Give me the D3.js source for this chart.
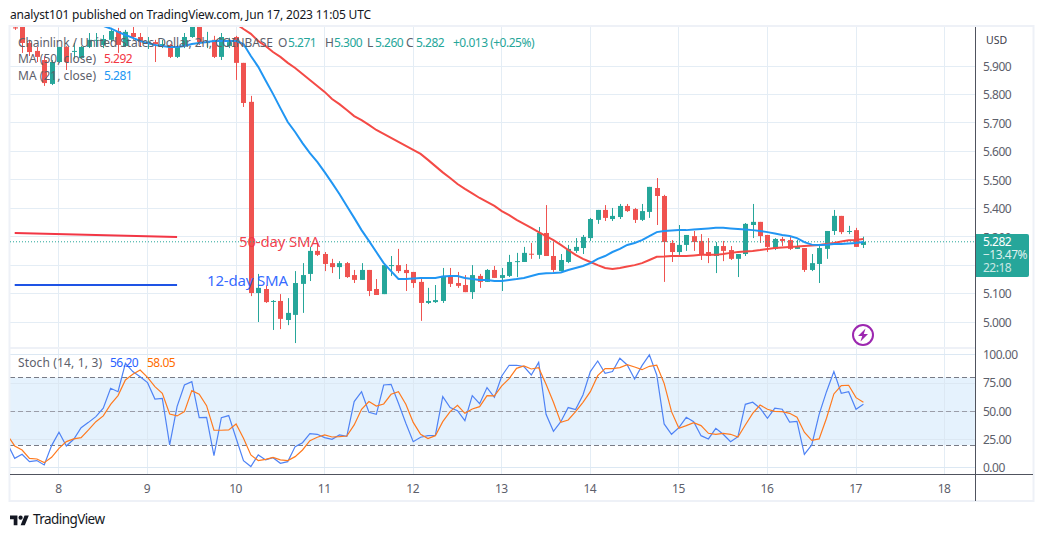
<!DOCTYPE html>
<html>
<head>
<meta charset="utf-8">
<script src="https://cdn.jsdelivr.net/npm/d3@7"></script>
<style>
  html, body { margin: 0; padding: 0; background: #fff; }
  svg { display: block; }
  text { font-family: "Noto Sans", "DejaVu Sans", sans-serif; }
</style>
</head>
<body>
<svg id="chart" width="1044" height="537"></svg>
<script>
// LINK/USD two-hour candles, 7 Jun 12:00 to 17 Jun 2023
const opens = [
  6.036,6.062,5.981,5.953,5.921,5.837,5.914,5.967,5.951,5.928,
  5.967,5.990,5.974,5.992,6.023,5.970,6.016,6.002,5.982,5.984,
  5.975,5.974,5.932,5.970,6.002,6.062,5.982,5.992,5.932,5.970,
  6.002,5.911,5.774,5.102,5.116,5.072,5.074,5.007,5.025,5.134,
  5.169,5.250,5.239,5.207,5.193,5.207,5.165,5.148,5.183,5.116,
  5.098,5.198,5.200,5.183,5.176,5.141,5.067,5.070,5.074,5.162,
  5.137,5.130,5.105,5.162,5.141,5.183,5.155,5.162,5.212,5.211,
  5.240,5.236,5.313,5.232,5.179,5.211,5.250,5.260,5.295,5.359,
  5.394,5.362,5.369,5.408,5.397,5.359,5.387,5.471,5.443,5.278,
  5.246,5.271,5.302,5.285,5.246,5.232,5.267,5.253,5.222,5.239,
  5.341,5.352,5.306,5.257,5.292,5.288,5.257,5.260,5.183,5.204,
  5.257,5.320,5.373,5.318,5.323,5.271];
const highs = [
  6.045,6.080,5.992,5.967,5.935,5.921,5.967,5.970,5.981,5.970,
  6.016,6.016,6.009,6.034,6.034,6.027,6.037,6.016,6.002,5.992,
  5.992,5.977,5.974,6.016,6.080,6.080,6.020,6.006,6.016,5.999,
  6.006,5.911,5.795,5.169,5.130,5.077,5.098,5.084,5.179,5.207,
  5.264,5.278,5.246,5.222,5.214,5.211,5.183,5.207,5.183,5.151,
  5.200,5.232,5.257,5.204,5.176,5.158,5.120,5.130,5.190,5.190,
  5.176,5.165,5.200,5.169,5.186,5.197,5.190,5.236,5.243,5.264,
  5.278,5.334,5.411,5.281,5.239,5.271,5.295,5.306,5.366,5.394,
  5.411,5.401,5.415,5.415,5.401,5.415,5.475,5.506,5.447,5.288,
  5.341,5.306,5.320,5.309,5.295,5.281,5.285,5.267,5.239,5.348,
  5.415,5.352,5.306,5.295,5.299,5.299,5.288,5.260,5.239,5.267,
  5.320,5.394,5.373,5.338,5.331,5.300];
const lows = [
  6.027,5.946,5.935,5.914,5.830,5.833,5.911,5.886,5.925,5.925,
  5.963,5.967,5.963,5.984,5.946,5.967,5.992,5.970,5.960,5.914,
  5.963,5.928,5.928,5.963,5.999,5.974,5.963,5.928,5.921,5.963,
  5.851,5.756,5.091,5.000,5.067,4.972,4.975,4.989,4.926,5.032,
  5.144,5.232,5.179,5.172,5.151,5.155,5.137,5.148,5.091,5.095,
  5.098,5.162,5.172,5.109,5.120,5.004,5.063,5.067,5.067,5.123,
  5.120,5.105,5.081,5.120,5.141,5.155,5.109,5.158,5.158,5.211,
  5.222,5.222,5.232,5.176,5.179,5.207,5.243,5.239,5.285,5.345,
  5.355,5.355,5.362,5.387,5.348,5.355,5.366,5.341,5.141,5.211,
  5.236,5.250,5.250,5.218,5.207,5.172,5.214,5.218,5.158,5.232,
  5.295,5.278,5.246,5.253,5.267,5.253,5.257,5.176,5.179,5.137,
  5.222,5.306,5.309,5.309,5.264,5.260];
const closes = [
  6.032,5.981,5.949,5.932,5.840,5.914,5.967,5.914,5.953,5.967,
  5.992,5.992,5.995,6.023,5.974,6.020,6.002,5.984,5.984,5.977,
  5.977,5.932,5.970,6.002,6.062,5.984,5.984,5.932,6.002,5.984,
  5.911,5.770,5.102,5.120,5.070,5.074,5.011,5.032,5.137,5.165,
  5.250,5.236,5.204,5.193,5.207,5.158,5.148,5.183,5.109,5.095,
  5.200,5.200,5.179,5.172,5.137,5.067,5.074,5.077,5.162,5.134,
  5.127,5.105,5.165,5.141,5.183,5.155,5.165,5.211,5.214,5.243,
  5.237,5.313,5.232,5.183,5.218,5.257,5.264,5.299,5.362,5.394,
  5.366,5.373,5.408,5.390,5.359,5.390,5.475,5.443,5.281,5.246,
  5.271,5.306,5.281,5.239,5.232,5.267,5.250,5.222,5.239,5.345,
  5.352,5.302,5.264,5.292,5.285,5.257,5.267,5.183,5.207,5.260,
  5.320,5.373,5.316,5.320,5.264,5.282];

// 21-period average, visible from bar 10 onward
const ma21Start = 10;
const ma21 = [
  6.062,6.051,6.041,6.032,6.020,6.009,5.999,5.988,5.981,5.974,
  5.970,5.967,5.967,5.970,5.977,5.981,5.984,5.988,5.988,5.988,5.988,
  5.977,5.935,5.897,5.849,5.802,5.752,5.703,5.668,5.629,
  5.594,5.563,5.527,5.489,5.450,5.408,5.366,5.323,5.285,5.246,
  5.207,5.179,5.151,5.151,5.153,5.155,5.155,5.155,5.160,5.162,
  5.162,5.155,5.151,5.148,5.148,5.144,5.144,5.148,5.151,5.155,
  5.162,5.169,5.171,5.172,5.174,5.183,5.190,5.197,5.207,5.222,
  5.232,5.246,5.257,5.271,5.278,5.288,5.302,5.316,5.320,5.322,
  5.323,5.323,5.325,5.327,5.329,5.331,5.331,5.329,5.327,5.325,
  5.323,5.320,5.316,5.311,5.306,5.302,5.295,5.281,5.272,5.271,
  5.272,5.274,5.274,5.276,5.278,5.281];

// 50-period average, visible from bar 30 onward
const ma50Start = 30;
const ma50 = [
  6.048,6.030,6.013,5.988,5.970,5.949,5.932,5.911,5.893,5.872,
  5.851,5.830,5.809,5.784,5.766,5.745,5.724,5.710,5.693,5.675,
  5.661,5.647,5.633,5.619,5.605,5.591,5.570,5.548,5.526,5.506,
  5.485,5.468,5.452,5.436,5.422,5.408,5.390,5.376,5.359,5.345,
  5.331,5.316,5.302,5.288,5.271,5.253,5.236,5.222,5.211,5.200,
  5.190,5.186,5.190,5.195,5.200,5.207,5.218,5.229,5.230,5.232,
  5.232,5.232,5.234,5.236,5.236,5.236,5.239,5.243,5.246,5.248,
  5.250,5.253,5.257,5.260,5.262,5.264,5.265,5.267,5.269,5.271,
  5.274,5.278,5.283,5.287,5.288,5.292];

// Stochastic (14, 1, 3); the first reading belongs to the bar before the first candle
const stochK = [
  21.6,8.3,11.9,5.4,6.3,2.4,19.6,31.4,19.3,25.2,35.5,40.2,45.3,52.7,70.4,67.4,
  92.6,85.2,80.7,75.4,60.9,61.5,20.2,54.1,73.3,76.3,44.4,44.7,10.7,44.4,46.2,26.1,
  6.3,1.0,11.3,6.9,8.9,3.9,5.4,18.7,22.2,30.2,29.6,26.7,25.2,29.0,27.8,
  58.6,67.4,49.1,47.3,73.3,73.9,57.1,39.4,23.1,27.0,28.4,28.7,63.0,53.3,50.6,41.7,
  63.9,56.8,71.0,62.4,81.3,90.8,90.8,89.6,82.2,93.4,47.3,32.3,40.8,53.3,51.5,64.5,
  85.2,94.6,83.7,85.2,97.0,91.1,78.7,90.5,100.0,82.2,38.8,29.6,35.5,44.7,
  40.8,28.4,25.5,34.9,29.6,23.1,27.5,56.2,58.0,52.7,43.8,52.7,51.8,40.5,41.1,11.9,
  20.2,47.3,67.4,85.2,66.0,67.4,51.8,56.20];
const stochD = [
  29.0,19.3,15.7,8.3,7.7,4.5,9.2,17.2,23.1,25.5,26.7,33.5,40.8,45.9,56.2,63.9,
  77.8,82.8,86.6,80.1,71.9,66.0,47.6,45.9,49.7,68.3,65.1,55.0,33.2,33.2,33.5,38.8,
  26.1,11.3,6.3,7.4,9.2,6.9,6.3,9.8,15.7,24.0,27.0,29.0,27.2,27.5,28.1,
  37.9,51.8,58.6,54.7,56.5,65.1,67.4,56.2,40.2,29.6,25.8,28.4,40.8,49.7,55.3,48.2,
  52.1,54.1,63.9,63.6,72.5,79.0,88.1,90.2,87.5,88.7,73.9,58.0,40.2,42.3,49.7,58.0,
  67.4,81.6,87.8,87.8,88.7,91.4,89.3,86.9,89.9,90.8,74.8,49.7,34.9,37.3,
  40.0,37.3,30.5,29.6,30.5,29.6,27.2,37.9,48.2,55.6,51.8,50.0,49.7,48.2,44.7,31.4,
  24.3,25.5,43.8,65.4,72.8,73.1,62.1,58.05];

const priceTicks = [5.0,5.1,5.2,5.3,5.4,5.5,5.6,5.7,5.8,5.9];
// 5.200 sits entirely behind the last-price tag, so it gets no label
const priceLabels = [5.0,5.1,5.3,5.4,5.5,5.6,5.7,5.8,5.9];
const stochTicks = [0,25,50,75,100];
const dayLabels = [8,9,10,11,12,13,14,15,16,17,18];
const barsPerDay = 12;
const firstDayBar = 6;

// Drawn-on trend markers
const sma50Marker = [5.313, 5.299];
const sma12Marker = [5.130, 5.130];
const markerBars = [0, 22];

const colors = {
  up: "#26a69a", down: "#ef5350", grid: "#e4edf5", frame: "#eef1f7",
  axis: "#50535e", text: "#5d606b", maFast: "#2196f3", maSlow: "#f44a46",
  k: "#4f83f5", d: "#ff7a1f", band: "#e5f2fd"
};

const plot = { left: 10, right: 975.5, top: 27, mid: 348, stochBottom: 474, bottom: 501, edge: 1033 };
const digitSpacing = -0.5;

const svg = d3.select("#chart");
const x = d3.scaleLinear().domain([0, 115]).range([14.7, 863.4]);
const yP = d3.scaleLinear().domain([5, 5.9]).range([322, 66]);
const yS = d3.scaleLinear().domain([0, 100]).range([467.7, 354.9]);
const dayBars = dayLabels.map((d, i) => firstDayBar + i * barsPerDay);

const defs = svg.append("defs");
defs.append("clipPath").attr("id", "pricePane").append("rect")
  .attr("x", plot.left).attr("y", plot.top).attr("width", plot.right - plot.left).attr("height", plot.mid - plot.top);
defs.append("clipPath").attr("id", "stochPane").append("rect")
  .attr("x", plot.left).attr("y", plot.mid).attr("width", plot.right - plot.left).attr("height", plot.stochBottom - plot.mid);

// Grid
const grid = svg.append("g").attr("stroke", colors.grid).attr("shape-rendering", "crispEdges");
grid.selectAll(".v").data(dayBars).join("line")
  .attr("x1", d => x(d)).attr("x2", d => x(d)).attr("y1", plot.top).attr("y2", plot.stochBottom);
grid.selectAll(".h").data(priceTicks).join("line")
  .attr("x1", plot.left).attr("x2", plot.right).attr("y1", d => yP(d)).attr("y2", d => yP(d));

// Stochastic band sits under its own grid lines
svg.append("rect")
  .attr("x", plot.left).attr("width", plot.right - plot.left)
  .attr("y", yS(80)).attr("height", yS(20) - yS(80)).attr("fill", colors.band);
const grid2 = svg.append("g").attr("stroke", "#dce8f3").attr("shape-rendering", "crispEdges");
grid2.selectAll("line").data(stochTicks).join("line")
  .attr("x1", plot.left).attr("x2", plot.right).attr("y1", d => yS(d)).attr("y2", d => yS(d));
grid2.selectAll(".vs").data(dayBars).join("line")
  .attr("x1", d => x(d)).attr("x2", d => x(d)).attr("y1", yS(80)).attr("y2", yS(20));
[[80, "#787b86"], [50, "#9a9da8"], [20, "#787b86"]].forEach(([v, c]) => {
  svg.append("line")
    .attr("x1", plot.left).attr("x2", plot.right).attr("y1", yS(v)).attr("y2", yS(v))
    .attr("stroke", c).attr("stroke-dasharray", "5 3").attr("shape-rendering", "crispEdges");
});

// Frame and axis rules
const frame = svg.append("g").attr("fill", "none");
frame.append("rect")
  .attr("x", plot.left - 0.5).attr("y", plot.top - 1).attr("width", plot.edge - plot.left + 1).attr("height", plot.bottom - plot.top + 1)
  .attr("stroke", colors.frame).attr("stroke-width", 2);
frame.append("line").attr("x1", plot.left).attr("x2", plot.right).attr("y1", plot.mid).attr("y2", plot.mid)
  .attr("stroke", colors.frame).attr("stroke-width", 2);

// Candles
const pricePane = svg.append("g").attr("clip-path", "url(#pricePane)");
const bars = d3.range(opens.length);
const candleColor = i => closes[i] >= opens[i] ? colors.up : colors.down;
pricePane.append("g").selectAll("line").data(bars).join("line")
  .attr("x1", i => Math.round(x(i)) + 0.5).attr("x2", i => Math.round(x(i)) + 0.5)
  .attr("y1", i => yP(highs[i])).attr("y2", i => yP(lows[i]))
  .attr("stroke", candleColor);
pricePane.append("g").selectAll("rect").data(bars).join("rect")
  .attr("x", i => Math.round(x(i)) - 2).attr("width", 5)
  .attr("y", i => Math.min(yP(opens[i]), yP(closes[i])))
  .attr("height", i => Math.max(1, Math.abs(yP(opens[i]) - yP(closes[i]))))
  .attr("fill", candleColor);

// Last-price line
pricePane.append("line")
  .attr("x1", plot.left).attr("x2", plot.right)
  .attr("y1", yP(closes[closes.length - 1])).attr("y2", yP(closes[closes.length - 1]))
  .attr("stroke", colors.up).attr("stroke-dasharray", "1 2");

// Moving averages
const maLine = start => d3.line().x((d, i) => x(i + start)).y(d => yP(d));
pricePane.append("path").attr("d", maLine(ma50Start)(ma50))
  .attr("fill", "none").attr("stroke", colors.maSlow).attr("stroke-width", 2);
pricePane.append("path").attr("d", maLine(ma21Start)(ma21))
  .attr("fill", "none").attr("stroke", colors.maFast).attr("stroke-width", 2);

// Hand-drawn markers and their captions
const markerLine = d3.line().x((d, i) => x(markerBars[i])).y(d => yP(d));
svg.append("path").attr("d", markerLine(sma50Marker)).attr("fill", "none").attr("stroke", "#f23645").attr("stroke-width", 2);
svg.append("path").attr("d", markerLine(sma12Marker)).attr("fill", "none").attr("stroke", "#1e53e5").attr("stroke-width", 2);
svg.append("text").text("50-day SMA").attr("x", 239).attr("y", 247)
  .attr("font-size", 15).attr("fill", "#f23645").attr("fill-opacity", 0.95).attr("textLength", 81);
svg.append("text").text("12-day SMA").attr("x", 207).attr("y", 286)
  .attr("font-size", 15).attr("fill", "#2962ff").attr("fill-opacity", 0.95).attr("textLength", 81);

// Stochastic pane
const stochPane = svg.append("g").attr("clip-path", "url(#stochPane)");
const stochLine = d3.line().x((d, i) => x(i - 1)).y(d => yS(d));
stochPane.append("path").attr("d", stochLine(stochK)).attr("fill", "none").attr("stroke", colors.k).attr("stroke-width", 1.2);
stochPane.append("path").attr("d", stochLine(stochD)).attr("fill", "none").attr("stroke", colors.d).attr("stroke-width", 1.2);

// Event badge
const badge = svg.append("g").attr("transform", "translate(863,335)");
badge.append("circle").attr("r", 10).attr("fill", "#fff").attr("stroke", "#9c27b0").attr("stroke-width", 2);
badge.append("path").attr("d", "M2.5 -6.5 L-5 1 L-0.8 1 L-2.5 6.5 L5 -1 L0.8 -1 Z").attr("fill", "#9c27b0");

// Right-hand and bottom axis rules
svg.append("line").attr("x1", plot.right).attr("x2", plot.right).attr("y1", plot.top).attr("y2", plot.bottom)
  .attr("stroke", colors.axis).attr("shape-rendering", "crispEdges");
svg.append("line").attr("x1", plot.left).attr("x2", plot.edge).attr("y1", plot.stochBottom + 0.5).attr("y2", plot.stochBottom + 0.5)
  .attr("stroke", colors.axis).attr("shape-rendering", "crispEdges");

// Axes
const styleAxis = g => {
  g.select(".domain").remove();
  g.selectAll(".tick line").remove();
  g.selectAll("text").attr("fill", colors.text).attr("font-size", 12).attr("letter-spacing", digitSpacing);
};
svg.append("g").attr("transform", "translate(976,0.5)")
  .call(d3.axisRight(yP).tickValues(priceLabels).tickFormat(d3.format(".3f")).tickSize(0).tickPadding(7))
  .call(styleAxis);
svg.append("g").attr("transform", "translate(976,0)")
  .call(d3.axisRight(yS).tickValues(stochTicks).tickFormat(d3.format(".2f")).tickSize(0).tickPadding(7))
  .call(styleAxis);
svg.append("g").attr("transform", "translate(-1,481)")
  .call(d3.axisBottom(d3.scaleOrdinal().domain(dayLabels).range(dayBars.map(b => x(b)))).tickSize(0).tickPadding(3))
  .call(styleAxis);
svg.append("text").text("USD").attr("x", 986).attr("y", 44).attr("font-size", 10.5).attr("fill", "#3d404a");

// Last-price tag
const tag = svg.append("g").attr("letter-spacing", digitSpacing);
tag.append("path").attr("d", "M976 234 H1027 a2 2 0 0 1 2 2 V275 a2 2 0 0 1 -2 2 H976 Z").attr("fill", colors.up);
tag.append("text").text(d3.format(".3f")(closes[closes.length - 1])).attr("x", 983).attr("y", 246).attr("fill", "#fff").attr("font-size", 12);
tag.append("text").text("\u221213.47%").attr("x", 983).attr("y", 259).attr("fill", "#fff").attr("fill-opacity", 0.85).attr("font-size", 12);
tag.append("text").text("22:18").attr("x", 983).attr("y", 272).attr("fill", "#fff").attr("fill-opacity", 0.75).attr("font-size", 12);

// Header and legends
svg.append("text").text("analyst101 published on TradingView.com, Jun 17, 2023 11:05 UTC")
  .attr("x", 10).attr("y", 19).attr("font-size", 12).attr("fill", "#131722").attr("textLength", 361);

const legend = svg.append("g").attr("font-size", 12).attr("fill", colors.text);
const figure = (sel, t, px, py, c) => sel.append("text").text(t).attr("x", px).attr("y", py)
  .attr("fill", c).attr("letter-spacing", digitSpacing);
legend.append("text").text("Chainlink / United States Dollar, 2h, COINBASE").attr("x", 18).attr("y", 47).attr("textLength", 255);
const ohlc = [["O", 278, "5.271", 288], ["H", 325, "5.300", 334], ["L", 367, "5.260", 375], ["C", 406, "5.282", 416]];
ohlc.forEach(([k, kx, v, vx]) => {
  legend.append("text").text(k).attr("x", kx).attr("y", 47);
  figure(legend, v, vx, 47, colors.up);
});
figure(legend, "+0.013 (+0.25%)", 453, 47, colors.up);
legend.append("text").text("MA (50, close)").attr("x", 18).attr("y", 63).attr("textLength", 78);
figure(legend, "5.292", 104, 63, "#f23645");
legend.append("text").text("MA (21, close)").attr("x", 18).attr("y", 80).attr("textLength", 78);
figure(legend, "5.281", 104, 80, colors.maFast);
legend.append("text").text("Stoch (14, 1, 3)").attr("x", 18).attr("y", 367).attr("textLength", 84);
figure(legend, "56.20", 110, 367, "#2962ff");
figure(legend, "58.05", 147, 367, "#ff6d00");

// Footer logo and wordmark
const logo = svg.append("g").attr("transform", "translate(10,513.5) scale(0.53)").attr("fill", "#131722");
logo.append("path").attr("d", "M14 22H7V11H0V4h14v18zM28 22h-8l7.5-18h8L28 22z");
logo.append("circle").attr("cx", 20).attr("cy", 8).attr("r", 4);
svg.append("text").text("TradingView").attr("x", 33).attr("y", 524).attr("font-size", 13.5).attr("fill", "#131722").attr("textLength", 72);
</script>
</body>
</html>
